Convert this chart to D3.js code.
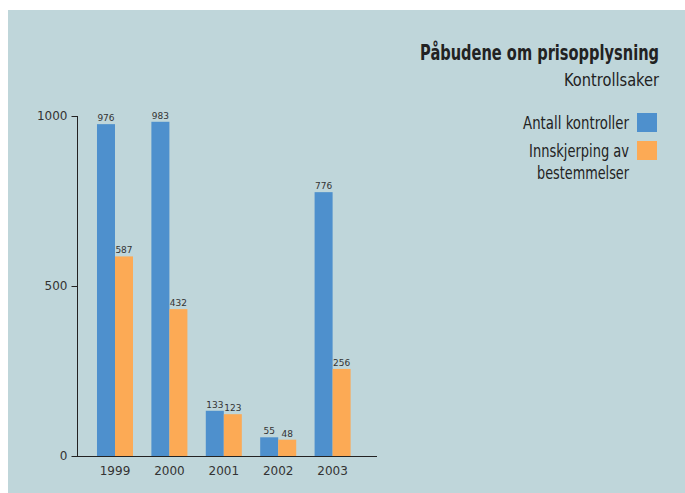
<!DOCTYPE html>
<html><head><meta charset="utf-8">
<script src="https://cdn.jsdelivr.net/npm/d3@7"></script>
<style>
html,body{margin:0;padding:0;background:#fff;}
svg{display:block;}
</style></head>
<body>
<script>
const years = ["1999","2000","2001","2002","2003"];
const antallKontroller = [976, 983, 133, 55, 776];
const innskjerping = [587, 432, 123, 48, 256];
const yTicks = [0, 500, 1000];
const seriesNames = ["Antall kontroller", "Innskjerping av|bestemmelser"];
const titleText = "Påbudene om prisopplysning";
const subtitleText = "Kontrollsaker";

const W = 685, H = 493;
const colors = ["#4e90cd", "#fcaa55"];
const bg = "#bfd6da";
const condensed = "'DejaVu Sans Condensed','Liberation Sans Narrow',sans-serif";

const svg = d3.select("body").append("svg").attr("width", W).attr("height", H);
svg.append("rect").attr("x", 8).attr("y", 10).attr("width", W - 8).attr("height", H - 10).attr("fill", bg);

const y = d3.scaleLinear().domain([0, 1000]).range([456, 116]);
const x = d3.scaleBand().domain(years).range([78.6, 369]).paddingInner(0.338).paddingOuter(0.338);
const xs = d3.scaleBand().domain([0, 1]).range([0, x.bandwidth()]);

const series = [antallKontroller, innskjerping];

series.forEach((vals, si) => {
  const g = svg.append("g");
  g.selectAll("rect").data(years).join("rect")
    .attr("x", (d) => x(d) + xs(si))
    .attr("y", (d, i) => y(vals[i]))
    .attr("width", xs.bandwidth())
    .attr("height", (d, i) => y(0) - y(vals[i]))
    .attr("fill", colors[si]);
  g.selectAll("text").data(years).join("text")
    .attr("x", (d) => x(d) + xs(si) + xs.bandwidth() / 2)
    .attr("y", (d, i) => y(vals[i]) - 3)
    .attr("text-anchor", "middle")
    .attr("font-family", "'DejaVu Sans',sans-serif")
    .attr("font-size", 9)
    .attr("fill", "#333")
    .text((d, i) => vals[i]);
});

const yAxis = d3.axisLeft(y).tickValues(yTicks).tickFormat(d3.format("d")).tickSize(6).tickPadding(4).tickSizeOuter(0);
const ya = svg.append("g").attr("transform", "translate(77.5,0)").call(yAxis);
ya.select(".domain").attr("stroke", "#222").attr("d", `M0,${y(1000)}V${y(0)}`);
ya.selectAll(".tick line").attr("stroke", "#222");
ya.selectAll(".tick text").attr("font-family", "'DejaVu Sans',sans-serif").attr("font-size", 12).attr("fill", "#333");

const xAxis = d3.axisBottom(x).tickSize(0).tickPadding(10);
const xa = svg.append("g").attr("transform", "translate(0,456.5)").call(xAxis);
xa.select(".domain").attr("d", "M77,0H377").attr("stroke", "#222");
xa.selectAll(".tick text").attr("font-family", "'DejaVu Sans',sans-serif").attr("font-size", 12).attr("fill", "#333");

// right-aligned text squeezed horizontally to a target width
function squeezed(str, xEnd, yBase, size, weight, len) {
  const t = svg.append("text").attr("x", 0).attr("y", 0).attr("text-anchor", "end")
    .attr("font-family", condensed).attr("font-weight", weight).attr("font-size", size)
    .attr("fill", "#222").text(str);
  const nat = t.node().getComputedTextLength();
  const k = Math.min(1, len / nat);
  t.attr("transform", `translate(${xEnd},${yBase}) scale(${k},1)`);
  return t;
}

squeezed(titleText, 659, 60, 22, "bold", 239);
squeezed(subtitleText, 659, 86, 18, "normal", 95);

const legY = [113, 141];
const legLens = [[106], [100, 92]];
seriesNames.forEach((name, i) => {
  svg.append("rect").attr("x", 637).attr("y", legY[i]).attr("width", 20).attr("height", 19).attr("fill", colors[i]);
  name.split("|").forEach((ln, j) => {
    squeezed(ln, 629, legY[i] + 16 + j * 22, 17, "normal", legLens[i][j]);
  });
});
</script>
</body></html>
